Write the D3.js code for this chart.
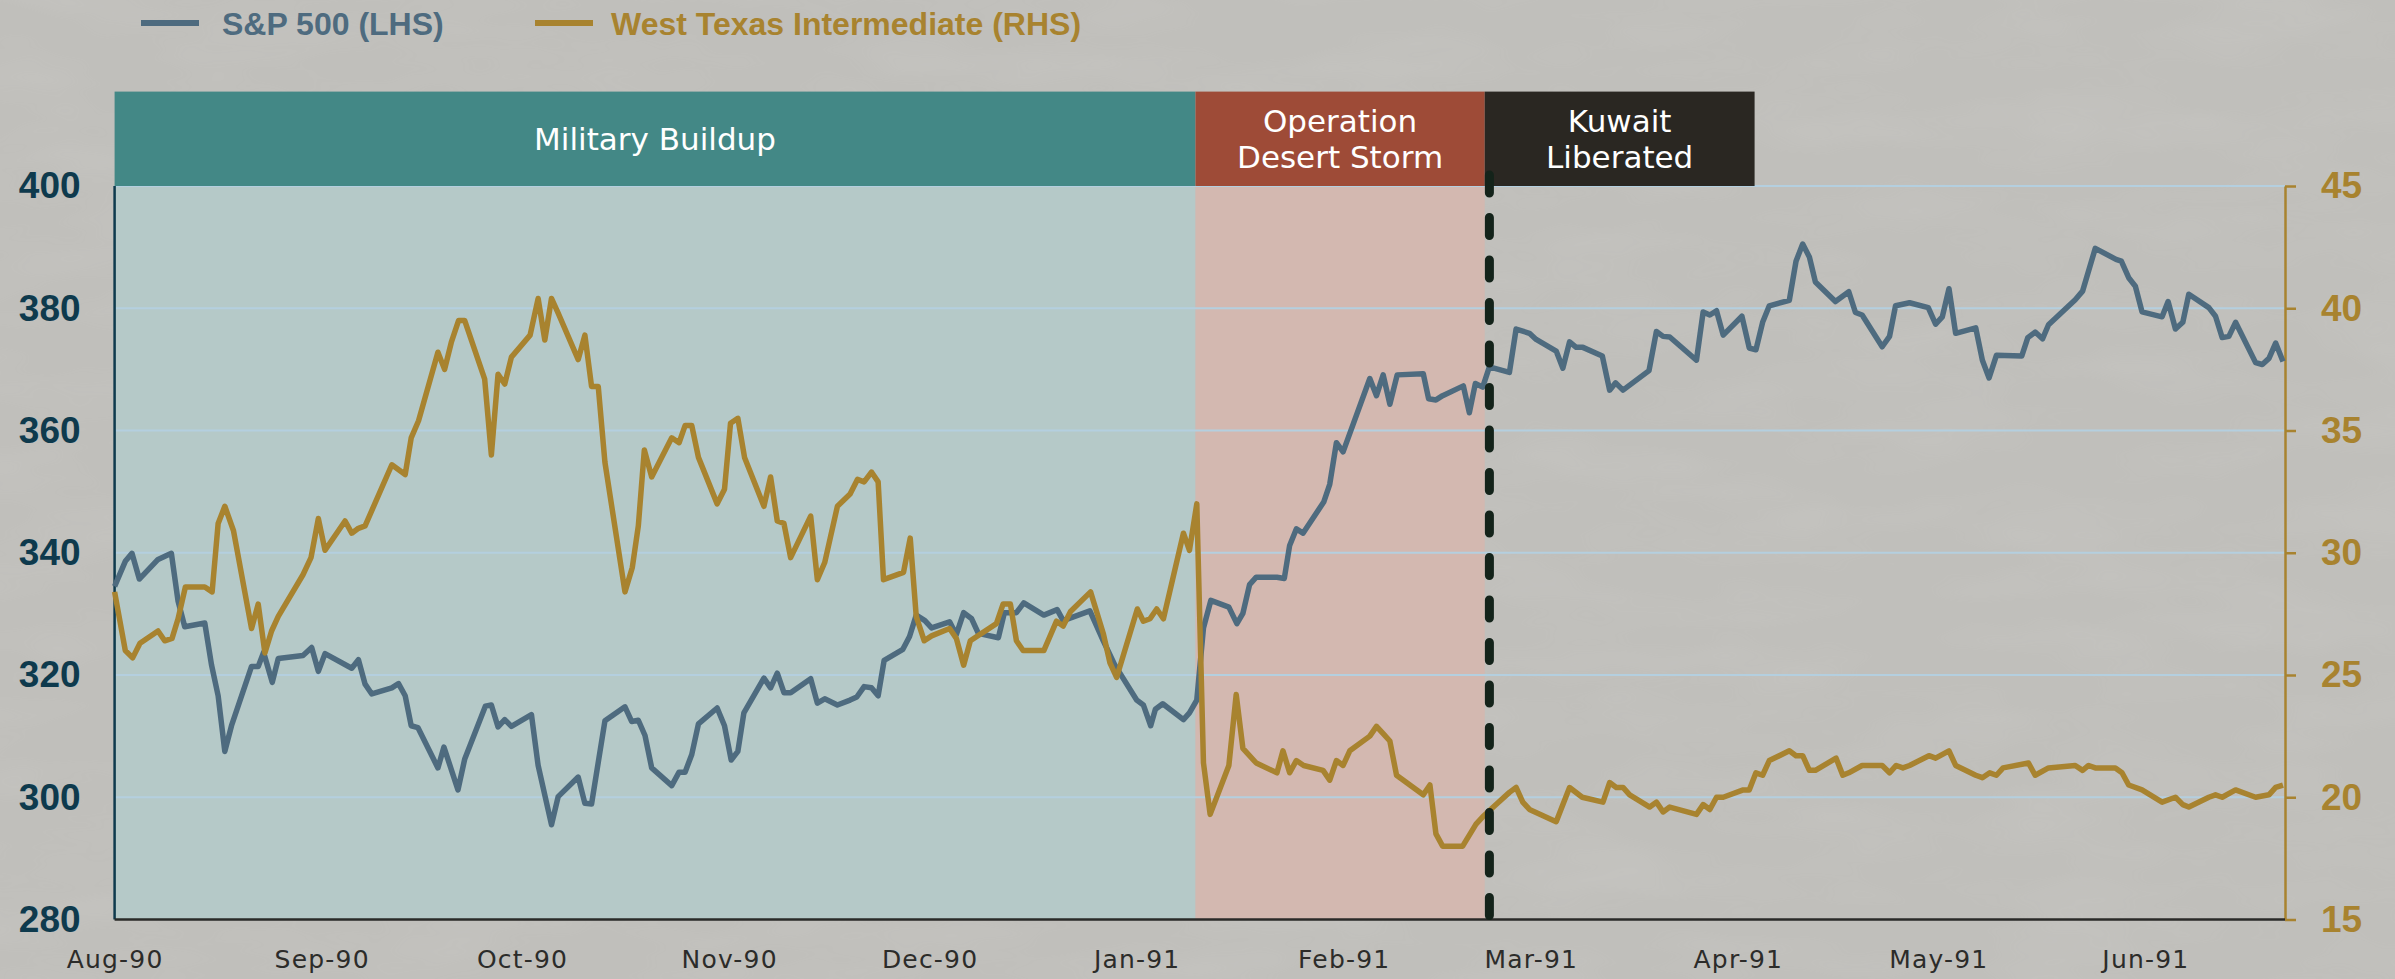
<!DOCTYPE html>
<html>
<head>
<meta charset="utf-8">
<script src="https://cdn.jsdelivr.net/npm/d3@7"></script>
<style>
  body { margin: 0; background: #c1c0bc; }
  svg { display: block; }
</style>
</head>
<body>
<div id="chart"></div>
<script>
// days counted from 1 Aug 1990
const spxDay = [
  0, 1.6, 2.6, 3.7, 6.5, 8.5, 9.5, 10.5, 13.5, 14.5,
  15.5, 16.5, 17.5, 20.5, 21.5, 22.3, 23.6, 24.5, 28.2, 29.5,
  30.5, 31.5, 35.5, 36.5, 37.5, 38.5, 41.5, 42.5, 43.5, 44.4,
  45.4, 48.4, 49.3, 51.4, 52.4, 55.5, 56.4, 57.4, 58.4, 59.4,
  62.4, 63.4, 65.4, 66.4, 69.4, 70.4, 71.4, 73.4, 76.4, 77.4,
  78.4, 79.4, 80.4, 83.4, 84.5, 85.4, 86.4, 87.4, 90.2, 91.3,
  92.3, 93.3, 94.2, 97.2, 98.2, 99.2, 100.2, 101.2, 104.2, 105.2,
  106.3, 108.2, 110.1, 111.1, 112.2, 113.3, 114.3, 115.2, 118.0, 119.0,
  120.0, 121.3, 122.3, 125.0, 126.0, 127.1, 128.3, 129.3, 132.3, 133.2,
  135.0, 136.1, 139.1, 141.1, 142.0, 146.0, 148.0, 149.7, 153.0, 154.0,
  155.1, 155.8, 156.9, 160.0, 160.9, 162.0, 163.0, 164.1, 166.8, 168.0,
  168.9, 169.9, 170.9, 174.0, 175.1, 175.9, 176.9, 177.9, 181.0, 181.9,
  182.9, 183.9, 187.9, 188.9, 189.9, 190.9, 192.0, 195.9, 196.7, 197.8,
  198.8, 201.9, 202.8, 203.7, 204.8, 205.8, 208.8, 209.8, 211.8, 212.8,
  215.8, 216.8, 217.8, 218.8, 219.8, 222.7, 223.8, 224.7, 225.8, 229.7,
  230.8, 231.8, 232.8, 236.8, 237.8, 238.8, 239.8, 240.8, 243.6, 244.7,
  245.7, 246.7, 247.7, 250.7, 251.7, 252.7, 253.7, 254.6, 257.6, 259.6,
  260.6, 261.6, 264.6, 265.7, 266.6, 268.7, 271.5, 272.6, 273.6, 274.6,
  275.6, 278.6, 279.6, 280.6, 281.7, 285.5, 286.4, 287.5, 288.6, 289.5,
  293.5, 294.6, 296.5, 299.6, 300.4, 301.5, 302.5, 303.5, 306.5, 307.4,
  308.5, 309.6, 310.5, 313.5, 314.5, 315.5, 316.5, 317.5, 320.5, 321.5,
  322.5, 323.5, 324.6
];
const spxValue = [
  334.5, 338.6, 339.9, 335.7, 338.9, 339.9, 332.1, 327.9, 328.5, 321.7,
  316.6, 307.5, 311.7, 321.4, 321.4, 323.7, 318.8, 322.7, 323.2, 324.5,
  320.6, 323.5, 321.1, 322.5, 318.5, 316.9, 317.9, 318.6, 316.6, 311.7,
  311.4, 304.8, 308.2, 301.2, 306.2, 314.9, 315.1, 311.5, 312.7, 311.6,
  313.5, 305.2, 295.5, 300.1, 303.3, 299.0, 298.9, 312.5, 314.8, 312.4,
  312.6, 310.1, 304.8, 301.9, 304.1, 304.1, 307.0, 312.0, 314.6, 311.7,
  306.1, 307.5, 313.8, 319.5, 317.9, 320.3, 317.1, 317.1, 319.4, 315.4,
  316.1, 315.1, 315.9, 316.4, 318.1, 317.9, 316.6, 322.4, 324.2, 326.3,
  329.8, 328.9, 327.7, 328.7, 326.6, 330.2, 329.2, 326.8, 326.1, 330.2,
  330.2, 331.8, 329.8, 330.7, 328.9, 330.5, 325.6, 321.7, 315.9, 315.1,
  311.7, 314.4, 315.3, 312.7, 313.8, 315.9, 327.7, 332.2, 331.1, 328.4,
  330.1, 334.8, 336.0, 336.0, 335.8, 341.2, 343.9, 343.2, 348.3, 351.2,
  358.0, 356.5, 368.5, 365.7, 369.1, 364.3, 369.1, 369.3, 365.2, 365.0,
  365.7, 367.3, 362.9, 367.7, 367.1, 370.4, 369.5, 376.6, 375.9, 374.9,
  373.0, 370.2, 374.5, 373.6, 373.6, 372.2, 366.6, 367.8, 366.6, 369.8,
  376.2, 375.4, 375.3, 371.5, 379.4, 378.9, 379.6, 375.6, 378.7, 373.5,
  373.2, 377.7, 380.4, 381.3, 387.7, 390.5, 388.4, 384.3, 381.1, 382.7,
  379.3, 378.9, 373.7, 375.4, 380.4, 380.9, 380.1, 377.4, 378.6, 383.2,
  375.9, 376.8, 371.5, 368.6, 372.3, 372.2, 375.2, 376.1, 375.0, 377.3,
  381.4, 382.8, 389.8, 388.0, 387.7, 385.0, 383.6, 379.4, 378.6, 381.1,
  376.6, 377.7, 382.3, 380.1, 378.7, 375.2, 375.4, 377.7, 371.1, 370.8,
  371.8, 374.3, 371.3
];

const wtiDay = [
  0, 1.6, 2.7, 3.8, 6.5, 7.5, 8.6, 9.5, 10.6, 13.5,
  14.6, 15.5, 16.5, 17.8, 20.5, 21.5, 22.5, 23.5, 24.5, 28.2,
  29.4, 30.5, 31.5, 34.5, 35.5, 36.5, 37.5, 41.5, 43.5, 44.4,
  45.5, 48.4, 49.4, 50.4, 51.5, 52.4, 55.4, 56.4, 57.4, 58.4,
  59.4, 62.2, 63.4, 64.4, 65.4, 66.4, 69.4, 70.4, 71.4, 72.4,
  73.4, 76.4, 77.5, 78.4, 79.3, 80.4, 83.4, 84.5, 85.4, 86.4,
  87.4, 90.2, 91.3, 92.2, 93.3, 94.3, 97.2, 98.2, 99.2, 100.2,
  101.2, 104.2, 105.2, 106.3, 108.2, 110.1, 111.2, 112.2, 113.3, 114.3,
  115.1, 118.1, 119.1, 120.0, 121.2, 122.3, 125.0, 126.0, 127.1, 128.1,
  132.0, 133.0, 134.1, 135.0, 136.0, 139.1, 141.0, 142.0, 143.1, 146.1,
  148.0, 149.0, 150.0, 153.1, 154.0, 155.0, 156.0, 157.0, 160.0, 160.9,
  162.0, 163.0, 164.0, 166.8, 167.9, 168.9, 170.9, 174.0, 174.9, 175.9,
  176.9, 178.0, 180.9, 181.9, 182.9, 183.9, 184.9, 187.9, 188.9, 189.9,
  190.9, 191.9, 195.9, 196.9, 197.8, 198.8, 201.8, 203.8, 204.8, 206.8,
  208.8, 209.8, 210.8, 211.8, 215.8, 217.8, 219.7, 222.8, 223.8, 224.8,
  225.8, 226.8, 229.8, 230.8, 231.8, 232.8, 236.8, 237.8, 238.8, 239.8,
  240.8, 243.8, 244.7, 245.7, 246.7, 247.7, 250.7, 251.7, 252.7, 253.7,
  254.6, 257.7, 258.7, 259.6, 261.6, 264.6, 265.7, 266.7, 267.7, 268.7,
  271.6, 272.6, 274.6, 275.6, 278.6, 279.6, 280.7, 281.7, 282.7, 286.5,
  287.5, 289.5, 293.5, 294.6, 295.5, 296.5, 299.5, 300.5, 301.5, 303.5,
  306.5, 308.5, 309.6, 310.5, 313.5, 314.5, 315.5, 317.5, 320.5, 322.5,
  323.5, 324.6
];
const wtiValue = [
  28.4, 26.0, 25.7, 26.3, 26.8, 26.4, 26.5, 27.3, 28.6, 28.6,
  28.4, 31.2, 31.9, 30.9, 26.9, 27.9, 25.9, 26.8, 27.4, 29.1,
  29.8, 31.4, 30.1, 31.3, 30.8, 31.0, 31.1, 33.6, 33.2, 34.7,
  35.4, 38.2, 37.5, 38.6, 39.5, 39.5, 37.1, 34.0, 37.3, 36.9,
  38.0, 38.9, 40.4, 38.7, 40.4, 39.8, 37.9, 38.9, 36.8, 36.8,
  33.7, 28.4, 29.4, 31.1, 34.2, 33.1, 34.7, 34.5, 35.2, 35.2,
  33.9, 32.0, 32.6, 35.3, 35.5, 33.9, 31.9, 33.1, 31.3, 31.2,
  29.8, 31.5, 28.9, 29.6, 31.9, 32.4, 33.0, 32.9, 33.3, 32.9,
  28.9, 29.2, 30.6, 27.4, 26.4, 26.6, 26.9, 26.5, 25.4, 26.4,
  27.1, 27.9, 27.9, 26.4, 26.0, 26.0, 27.2, 27.0, 27.6, 28.4,
  26.7, 25.5, 24.9, 27.7, 27.2, 27.3, 27.7, 27.3, 30.8, 30.1,
  32.0, 21.4, 19.3, 21.3, 24.2, 22.0, 21.4, 21.0, 21.9, 21.0,
  21.5, 21.3, 21.1, 20.7, 21.5, 21.3, 21.9, 22.5, 22.9, 22.6,
  22.3, 20.9, 20.1, 20.5, 18.5, 18.0, 18.0, 18.9, 19.2, 19.7,
  20.2, 20.4, 19.8, 19.5, 19.0, 20.4, 20.0, 19.8, 20.6, 20.4,
  20.4, 20.1, 19.6, 19.8, 19.4, 19.6, 19.3, 19.7, 19.5, 20.0,
  20.0, 20.3, 20.3, 21.0, 20.9, 21.5, 21.9, 21.7, 21.7, 21.1,
  21.1, 21.6, 20.9, 21.0, 21.3, 21.3, 21.0, 21.3, 21.2, 21.3,
  21.7, 21.6, 21.9, 21.3, 20.9, 20.8, 21.0, 20.9, 21.2, 21.4,
  20.9, 21.2, 21.3, 21.1, 21.3, 21.2, 21.2, 21.0, 20.5, 20.3,
  19.8, 20.0, 19.7, 19.6, 20.0, 20.1, 20.0, 20.3, 20.0, 20.1,
  20.4, 20.5
];

const monthTicks = ["Aug-90", "Sep-90", "Oct-90", "Nov-90", "Dec-90", "Jan-91",
  "Feb-91", "Mar-91", "Apr-91", "May-91", "Jun-91"];
const leftTicks = [280, 300, 320, 340, 360, 380, 400];
const rightTicks = [15, 20, 25, 30, 35, 40, 45];

const phaseNames = [["Military Buildup"], ["Operation", "Desert Storm"], ["Kuwait", "Liberated"]];
const phaseStart = [0, 161.8, 205.1];
const phaseEnd = [161.8, 205.1, 245.5];
const liberationDay = 205.8;
const lastDay = 324.9;

const seriesNames = ["S&P 500 (LHS)", "West Texas Intermediate (RHS)"];

const width = 2395,
  height = 979;
const plotLeft = 114.6, plotRight = 2285, plotTop = 186, plotBottom = 919.5;
const bandTop = 91.6;

const blue = "#4e6b7f", gold = "#a8832f";
const phaseColor = ["#438886", "#9e4b37", "#2a2722"];
const shadeColor = ["#b5c9c8", "#d3b8b0", null];
const sans = "'Liberation Sans', Arial, sans-serif";

const t0 = Date.UTC(1990, 7, 1);
const dayDate = (d) => new Date(t0 + d * 864e5);

const x = d3.scaleUtc()
  .domain([dayDate(0), dayDate(lastDay)])
  .range([plotLeft, plotRight]);
const yL = d3.scaleLinear().domain([280, 400]).range([plotBottom, plotTop]);
const yR = d3.scaleLinear().domain([15, 45]).range([plotBottom, plotTop]);

const svg = d3.select("#chart").append("svg")
  .attr("width", width)
  .attr("height", height)
  .style("font-family", "'DejaVu Sans', sans-serif");

// paper-like background
const defs = svg.append("defs");
const paper = defs.append("filter")
  .attr("id", "paper")
  .attr("x", 0).attr("y", 0).attr("width", "100%").attr("height", "100%");
paper.append("feTurbulence")
  .attr("type", "fractalNoise")
  .attr("baseFrequency", "0.006 0.02")
  .attr("numOctaves", 3)
  .attr("seed", 7);
paper.append("feColorMatrix")
  .attr("values", "0 0 0 0 1  0 0 0 0 1  0 0 0 0 1  0 0 0 0.9 -0.35");

svg.append("rect")
  .attr("width", width)
  .attr("height", height)
  .attr("fill", "#c0bfbb");
svg.append("rect")
  .attr("width", width)
  .attr("height", height)
  .attr("filter", "url(#paper)")
  .attr("opacity", 0.12);

// shaded periods in the plot
phaseNames.forEach((p, i) => {
  if (!shadeColor[i]) return;
  svg.append("rect")
    .attr("x", x(dayDate(phaseStart[i])))
    .attr("y", plotTop)
    .attr("width", x(dayDate(phaseEnd[i])) - x(dayDate(phaseStart[i])))
    .attr("height", plotBottom - plotTop)
    .attr("fill", shadeColor[i]);
});

// grid
svg.append("g")
  .selectAll("line")
  .data(leftTicks.slice(1))
  .enter()
  .append("line")
  .attr("x1", plotLeft)
  .attr("x2", plotRight)
  .attr("y1", (d) => yL(d))
  .attr("y2", (d) => yL(d))
  .attr("stroke", "#b4cfdf")
  .attr("stroke-width", 2);

// header bands
const band = svg.selectAll(".band")
  .data(phaseNames)
  .enter()
  .append("g");

band.append("rect")
  .attr("x", (d, i) => x(dayDate(phaseStart[i])))
  .attr("y", bandTop)
  .attr("width", (d, i) => x(dayDate(phaseEnd[i])) - x(dayDate(phaseStart[i])))
  .attr("height", plotTop - bandTop)
  .attr("fill", (d, i) => phaseColor[i]);

band.append("text")
  .attr("text-anchor", "middle")
  .attr("fill", "#ffffff")
  .style("font-size", "31px")
  .each(function (d, i) {
    const cx = (x(dayDate(phaseStart[i])) + x(dayDate(phaseEnd[i]))) / 2;
    const y0 = d.length === 1 ? 139 : 121;
    d3.select(this).selectAll("tspan")
      .data(d)
      .enter()
      .append("tspan")
      .attr("x", cx)
      .attr("y", (s, j) => y0 + j * 36)
      .attr("dy", "0.36em")
      .text((s) => s);
  });

// axes
const axisL = svg.append("g")
  .attr("transform", `translate(${plotLeft},0)`)
  .call(d3.axisLeft(yL).tickValues(leftTicks).tickSize(0).tickPadding(34));
axisL.attr("font-family", sans);
axisL.select(".domain").remove();
axisL.selectAll("text")
  .attr("fill", "#0e3a4d")
  .style("font-size", "37px")
  .style("font-weight", "bold");

const axisR = svg.append("g")
  .attr("transform", `translate(${plotRight},0)`)
  .call(d3.axisRight(yR).tickValues(rightTicks).tickSize(11).tickSizeOuter(0).tickPadding(25));
axisR.attr("font-family", sans);
axisR.select(".domain").attr("stroke", gold).attr("stroke-width", 2.5);
axisR.selectAll(".tick line").attr("stroke", gold).attr("stroke-width", 2.5);
axisR.selectAll("text")
  .attr("fill", gold)
  .style("font-size", "37px")
  .style("font-weight", "bold");

const parseMonth = d3.utcParse("%b-%y");
const axisB = svg.append("g")
  .attr("transform", `translate(0,${plotBottom})`)
  .call(d3.axisBottom(x)
    .tickValues(monthTicks.map(parseMonth))
    .tickFormat(d3.utcFormat("%b-%y"))
    .tickSize(0)
    .tickPadding(31));
axisB.attr("font-family", "'DejaVu Sans', sans-serif");
axisB.select(".domain").remove();
axisB.selectAll("text")
  .attr("fill", "#2c2c2a")
  .style("font-size", "25px")
  .style("letter-spacing", "1.2px");

svg.append("line")
  .attr("x1", plotLeft).attr("x2", plotLeft)
  .attr("y1", plotTop).attr("y2", plotBottom)
  .attr("stroke", "#0e3a4d")
  .attr("stroke-width", 2.5);

svg.append("line")
  .attr("x1", plotLeft).attr("x2", plotRight)
  .attr("y1", plotBottom).attr("y2", plotBottom)
  .attr("stroke", "#2a2a28")
  .attr("stroke-width", 2.5);

// series
const spxLine = d3.line()
  .x((d, i) => x(dayDate(spxDay[i])))
  .y((d) => yL(d));
const wtiLine = d3.line()
  .x((d, i) => x(dayDate(wtiDay[i])))
  .y((d) => yR(d));

svg.append("path")
  .attr("d", spxLine(spxValue))
  .attr("fill", "none")
  .attr("stroke", blue)
  .attr("stroke-width", 5.5)
  .attr("stroke-linejoin", "round");

svg.append("path")
  .attr("d", wtiLine(wtiValue))
  .attr("fill", "none")
  .attr("stroke", gold)
  .attr("stroke-width", 5.5)
  .attr("stroke-linejoin", "round");

// Kuwait liberated marker
svg.append("line")
  .attr("x1", x(dayDate(liberationDay)))
  .attr("x2", x(dayDate(liberationDay)))
  .attr("y1", plotBottom - 4)
  .attr("y2", 166)
  .attr("stroke", "#14231a")
  .attr("stroke-width", 9)
  .attr("stroke-linecap", "round")
  .attr("stroke-dasharray", "18 24.5");

// legend
const legend = svg.selectAll(".legend")
  .data(seriesNames)
  .enter()
  .append("g")
  .attr("transform", (d, i) => `translate(${[141, 535][i]},23)`);

legend.append("line")
  .attr("x1", 0).attr("x2", 58)
  .attr("stroke", (d, i) => [blue, gold][i])
  .attr("stroke-width", 6);

legend.append("text")
  .attr("x", (d, i) => [81, 76][i])
  .attr("dy", "0.36em")
  .attr("fill", (d, i) => [blue, gold][i])
  .style("font-family", sans)
  .style("font-size", "32px")
  .style("font-weight", "bold")
  .text((d) => d);
</script>
</body>
</html>
